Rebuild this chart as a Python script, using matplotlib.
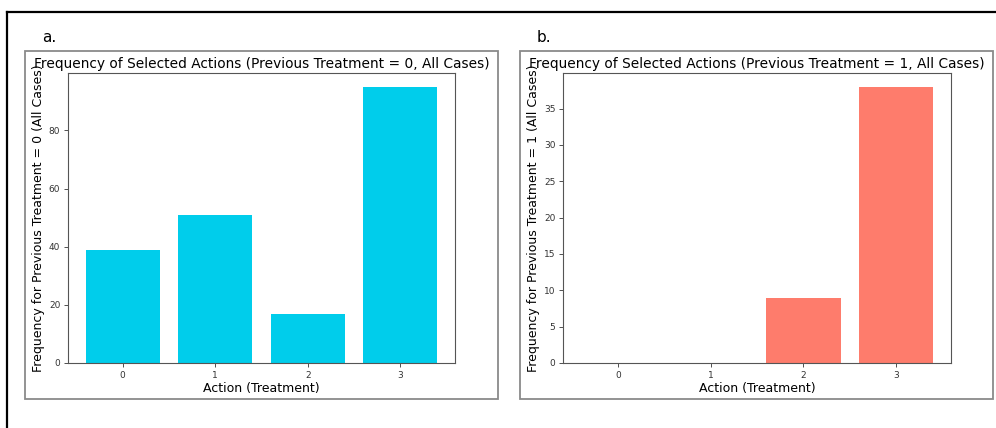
import matplotlib
matplotlib.use("Agg")
import matplotlib.pyplot as plt
from matplotlib.patches import Rectangle
from matplotlib.lines import Line2D

# data
actions = [0, 1, 2, 3]
freq_prev0 = [39, 51, 17, 95]
freq_prev1 = [0, 0, 9, 38]

W, H = 996, 428
fig = plt.figure(figsize=(W / 100, H / 100), dpi=100)


def box(x0, y0, x1, y1):
    # pixel coords (top-left origin) -> figure fraction
    return [x0 / W, 1 - y1 / H, (x1 - x0) / W, (y1 - y0) / H]


# outer frame (top and left edges only visible)
fig.add_artist(Line2D([7 / W, 1], [1 - 12 / H, 1 - 12 / H], color="black", lw=1.6))
fig.add_artist(Line2D([7 / W, 7 / W], [1 - 12 / H, 0], color="black", lw=1.6))

panels = [
    (25, 498, 68, 455, freq_prev0, "#00CDEB", "0", "a."),
    (520, 993, 563, 951, freq_prev1, "#FE7C6C", "1", "b."),
]

for px0, px1, ax0, ax1, vals, col, prev, tag in panels:
    b = box(px0, 51, px1, 399)
    fig.add_artist(Rectangle((b[0], b[1]), b[2], b[3], transform=fig.transFigure,
                             fill=False, edgecolor="#8a8a8a", lw=1.3))
    fig.text((px0 + 17) / W, 1 - 38 / H, tag, fontsize=11, va="center", ha="left")

    ax = fig.add_axes(box(ax0, 73, ax1, 363))
    ax.bar(actions, vals, color=col)
    ax.set_xticks(actions)
    ax.tick_params(labelsize=6.5, colors="#333333", length=3, width=0.6, pad=2.5)
    for s in ax.spines.values():
        s.set_color("#555555")
        s.set_linewidth(0.8)
    ax.set_xlabel("Action (Treatment)", fontsize=9, labelpad=2)
    ax.set_ylabel("Frequency for Previous Treatment = %s (All Cases)" % prev,
                  fontsize=9, labelpad=3)
    ax.set_title("Frequency of Selected Actions (Previous Treatment = %s, All Cases)" % prev,
                 fontsize=9.9, pad=3.5)

fig.savefig("out.png", dpi=100)
